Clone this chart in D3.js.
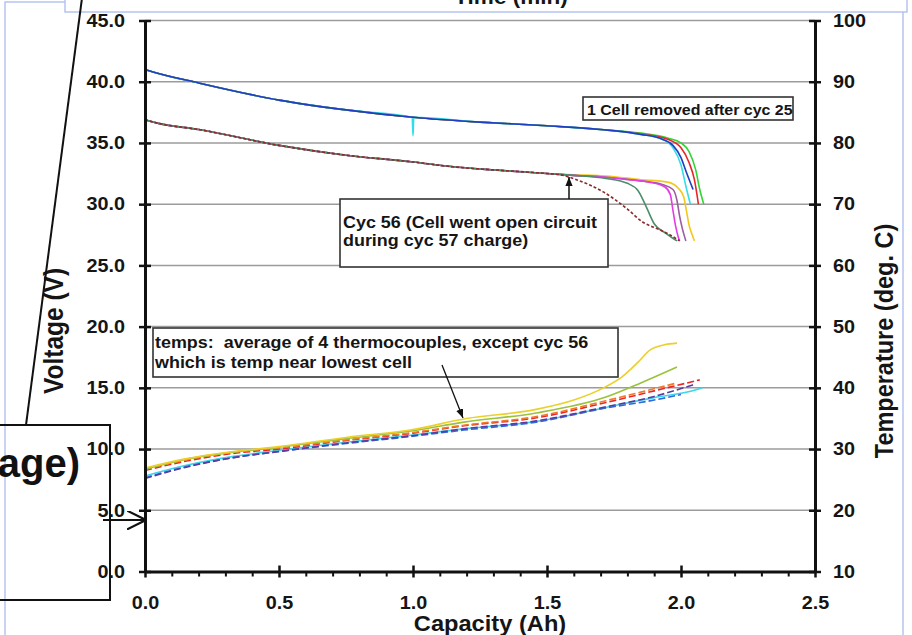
<!DOCTYPE html>
<html>
<head>
<meta charset="utf-8">
<script src="https://cdn.jsdelivr.net/npm/d3@7"></script>
<style>
body { margin: 0; background: #fff; }
svg { display: block; }
text { white-space: pre; }
</style>
</head>
<body>
<svg id="chart" width="912" height="635"></svg>
<script>
// tick values
var voltTicks = [0, 5, 10, 15, 20, 25, 30, 35, 40, 45];
var tempTicks = [10, 20, 30, 40, 50, 60, 70, 80, 90, 100];
var capTicks = [0, 0.5, 1.0, 1.5, 2.0, 2.5];
var capMinor = [0.1, 0.2, 0.3, 0.4, 0.6, 0.7, 0.8, 0.9, 1.1, 1.2, 1.3, 1.4, 1.6, 1.7, 1.8, 1.9, 2.1, 2.2, 2.3, 2.4];

// voltage (V) vs capacity (Ah), upper group
var voltBlue = [[0,41.0],[0.03,40.8],[0.2,39.9],[0.5,38.5],[0.75,37.7],[1.0,37.1],[1.25,36.7],[1.5,36.4],[1.7,36.1],[1.85,35.7],[1.93,35.3],[1.97,34.8],[2.0,33.8],[2.02,32.6],[2.045,31.2]];
var voltCyan = [[0,41.9],[0.003,41.0],[0.03,40.8],[0.2,39.9],[0.5,38.5],[0.75,37.7],[0.997,37.1],[1.0,35.6],[1.003,37.1],[1.25,36.7],[1.5,36.4],[1.7,36.1],[1.85,35.7],[1.93,35.3],[1.97,34.6],[2.0,33.2],[2.02,31.3],[2.035,30.0]];
var voltRed = [[0,41.0],[0.03,40.8],[0.2,39.9],[0.5,38.5],[0.75,37.7],[1.0,37.1],[1.25,36.7],[1.5,36.4],[1.7,36.1],[1.85,35.75],[1.95,35.3],[2.0,34.6],[2.03,33.4],[2.05,32.0],[2.065,30.0]];
var voltGreen = [[0,41.0],[0.03,40.8],[0.2,39.9],[0.5,38.5],[0.75,37.7],[1.0,37.1],[1.25,36.7],[1.5,36.4],[1.7,36.1],[1.85,35.8],[1.95,35.4],[2.0,35.0],[2.03,34.3],[2.055,32.8],[2.07,31.2],[2.085,30.0]];

// voltage, lower group
var voltCyc56 = [[0,36.9],[0.05,36.6],[0.2,36.1],[0.5,34.8],[0.75,34.0],[1.0,33.45],[1.15,33.05],[1.3,32.8],[1.5,32.5],[1.55,32.4],[1.61,32.0],[1.71,31.0],[1.8,29.6],[1.86,28.5],[1.9,28.1],[1.95,27.6],[1.995,27.0]];
var voltTeal = [[0,36.9],[0.05,36.6],[0.2,36.1],[0.5,34.8],[0.75,34.0],[1.0,33.45],[1.15,33.05],[1.3,32.8],[1.5,32.5],[1.6,32.35],[1.72,32.1],[1.8,31.7],[1.84,31.1],[1.87,29.8],[1.9,28.4],[1.945,27.6],[1.985,27.0]];
var voltMagenta = [[0,36.9],[0.05,36.6],[0.2,36.1],[0.5,34.8],[0.75,34.0],[1.0,33.45],[1.15,33.05],[1.3,32.8],[1.5,32.5],[1.6,32.35],[1.72,32.2],[1.8,32.0],[1.88,31.8],[1.94,31.4],[1.96,30.8],[1.97,29.5],[1.98,28.2],[1.99,27.3],[1.995,27.0]];
var voltPurple = [[0,36.9],[0.05,36.6],[0.2,36.1],[0.5,34.8],[0.75,34.0],[1.0,33.45],[1.15,33.05],[1.3,32.8],[1.5,32.5],[1.6,32.35],[1.72,32.2],[1.85,31.9],[1.93,31.6],[1.97,31.2],[1.985,30.3],[1.995,29.0],[2.005,28.0],[2.018,27.0]];
var voltYellow = [[0,36.9],[0.05,36.6],[0.2,36.1],[0.5,34.8],[0.75,34.0],[1.0,33.45],[1.15,33.05],[1.3,32.8],[1.5,32.5],[1.6,32.4],[1.72,32.3],[1.85,32.0],[1.95,31.8],[1.99,31.3],[2.01,30.6],[2.02,29.5],[2.03,28.3],[2.04,27.6],[2.05,27.0]];

// temperature (deg C) vs capacity (Ah)
var tempYellow = [[0,26.9],[0.15,28.4],[0.33,29.6],[0.5,30.4],[0.75,31.9],[1.0,33.2],[1.2,35.0],[1.45,36.4],[1.6,38.0],[1.72,40.2],[1.78,41.8],[1.84,44.2],[1.885,46.2],[1.935,47.0],[1.985,47.3]];
var tempGreen = [[0,26.7],[0.15,28.3],[0.33,29.5],[0.5,30.3],[0.75,31.7],[1.0,33.0],[1.19,34.4],[1.46,35.9],[1.72,38.5],[1.85,40.8],[1.985,43.4]];
var tempOrange = [[0,26.7],[0.15,28.2],[0.33,29.5],[0.5,30.2],[0.75,31.5],[1.0,32.7],[1.19,33.9],[1.46,35.3],[1.72,37.9],[1.85,39.3],[1.985,40.8]];
var tempRed = [[0,26.5],[0.15,28.0],[0.33,29.3],[0.5,30.0],[0.75,31.4],[1.0,32.6],[1.19,33.8],[1.46,35.1],[1.72,37.6],[1.9,39.5],[2.07,41.3]];
var tempPurple = [[0,25.2],[0.15,27.0],[0.33,28.6],[0.5,29.6],[0.75,31.0],[1.0,32.2],[1.19,33.3],[1.46,34.6],[1.72,36.9],[1.9,38.6],[2.045,40.5]];
var tempBlue = [[0,25.3],[0.15,27.1],[0.33,28.6],[0.5,29.6],[0.75,30.9],[1.0,32.1],[1.19,33.1],[1.46,34.4],[1.72,36.7],[1.9,38.0],[2.0,38.9]];
var tempCyan = [[0,25.6],[0.15,27.3],[0.33,28.8],[0.5,29.8],[0.75,31.1],[1.0,32.3],[1.19,33.3],[1.46,34.5],[1.72,36.8],[1.9,38.4],[2.05,39.6],[2.08,40.0]];

var SX = 1.1; // the picture is a bit wider than tall
var FONT = "'Liberation Sans', Arial, Helvetica, sans-serif";

var svg = d3.select("#chart"),
    width = +svg.attr("width"),
    height = +svg.attr("height");

var x = d3.scaleLinear().domain([0, 2.5]).range([145, 815]);
var yV = d3.scaleLinear().domain([0, 45]).range([571.5, 20.5]);
var yT = d3.scaleLinear().domain([10, 100]).range([571.5, 20.5]);

var defs = svg.append("defs");
defs.append("marker")
    .attr("id", "tri")
    .attr("viewBox", "0 0 10 10")
    .attr("refX", 10).attr("refY", 5)
    .attr("markerWidth", 9).attr("markerHeight", 9)
    .attr("markerUnits", "userSpaceOnUse")
    .attr("orient", "auto")
    .append("path").attr("d", "M0,1L10,5L0,9z").attr("fill", "#111");
defs.append("marker")
    .attr("id", "vee")
    .attr("viewBox", "0 0 10 10")
    .attr("refX", 9.5).attr("refY", 5)
    .attr("markerWidth", 19).attr("markerHeight", 19)
    .attr("markerUnits", "userSpaceOnUse")
    .attr("orient", "auto")
    .append("path").attr("d", "M0,0L10,5L0,10").attr("fill", "none").attr("stroke", "#111").attr("stroke-width", 1.1);

// light blue selection frames
svg.append("rect").attr("x", 5).attr("y", 2).attr("width", 898).attr("height", 700)
    .attr("fill", "none").attr("stroke", "#b7c3f2").attr("stroke-width", 1.5);
svg.append("rect").attr("x", 65).attr("y", -30).attr("width", 842).attr("height", 42)
    .attr("fill", "#fff").attr("stroke", "#b7c3f2").attr("stroke-width", 1.5);

// grid lines
svg.append("g").selectAll("line")
    .data(voltTicks.filter(function (v) { return v > 0; }))
    .join("line")
    .attr("x1", x(0)).attr("x2", x(2.5))
    .attr("y1", function (d) { return yV(d); })
    .attr("y2", function (d) { return yV(d); })
    .attr("stroke", "#9b9b9b").attr("stroke-width", 1.5);

var lineV = d3.line().x(function (d) { return x(d[0]); }).y(function (d) { return yV(d[1]); }).curve(d3.curveMonotoneX);
var lineT = d3.line().x(function (d) { return x(d[0]); }).y(function (d) { return yT(d[1]); }).curve(d3.curveMonotoneX);

var series = [
    {data: tempCyan, axis: "T", color: "#3ad6ec"},
    {data: tempBlue, axis: "T", color: "#2f6ad8", dash: "7,3"},
    {data: tempPurple, axis: "T", color: "#5c3aa0", dash: "7,3"},
    {data: tempRed, axis: "T", color: "#e8262a", dash: "7,3"},
    {data: tempOrange, axis: "T", color: "#f07a2a", dash: "7,3"},
    {data: tempGreen, axis: "T", color: "#9ac23c"},
    {data: tempYellow, axis: "T", color: "#ecd02a"},
    {data: voltGreen, axis: "V", color: "#33d433"},
    {data: voltRed, axis: "V", color: "#e8262a"},
    {data: voltCyan, axis: "V", color: "#33dde8"},
    {data: voltBlue, axis: "V", color: "#1f3fbf"},
    {data: voltYellow, axis: "V", color: "#f2c81e"},
    {data: voltPurple, axis: "V", color: "#9b5ca0"},
    {data: voltMagenta, axis: "V", color: "#e43ce4"},
    {data: voltTeal, axis: "V", color: "#4a8f6a"},
    {data: voltCyc56, axis: "V", color: "#8b2a2a", dash: "3,2"}
];

svg.append("g").selectAll("path")
    .data(series)
    .join("path")
    .attr("d", function (s) { return (s.axis === "T" ? lineT : lineV)(s.data); })
    .attr("fill", "none")
    .attr("stroke", function (s) { return s.color; })
    .attr("stroke-width", 1.6)
    .attr("stroke-dasharray", function (s) { return s.dash || null; });

// axes
function styleAxis(g) {
    g.select(".domain").attr("stroke", "#111").attr("stroke-width", 3);
    g.selectAll(".tick line").attr("stroke", "#111").attr("stroke-width", 2.5);
    g.selectAll(".tick text")
        .attr("fill", "#151515")
        .attr("font-family", FONT)
        .attr("font-size", 18)
        .attr("font-weight", "bold")
        .attr("transform", "scale(" + SX + ",1)");
}

var gL = svg.append("g").attr("transform", "translate(145,0)")
    .call(d3.axisLeft(yV).tickValues(voltTicks).tickFormat(d3.format(".1f")).tickSize(6).tickSizeOuter(0));
styleAxis(gL);
gL.selectAll(".tick line").attr("x1", 6);
gL.selectAll(".tick text").attr("x", -20 / SX);

var gR = svg.append("g").attr("transform", "translate(815,0)")
    .call(d3.axisRight(yT).tickValues(tempTicks).tickFormat(d3.format("d")).tickSize(6).tickSizeOuter(0));
styleAxis(gR);
gR.selectAll(".tick line").attr("x1", -6);
gR.selectAll(".tick text").attr("x", 18 / SX);

var gM = svg.append("g").attr("transform", "translate(0,571.5)")
    .call(d3.axisBottom(x).tickValues(capMinor).tickFormat("").tickSize(5).tickSizeOuter(0));
gM.select(".domain").remove();
gM.selectAll(".tick line").attr("stroke", "#111").attr("stroke-width", 2);

var gB = svg.append("g").attr("transform", "translate(0,571.5)")
    .call(d3.axisBottom(x).tickValues(capTicks).tickFormat(d3.format(".1f")).tickSize(6).tickSizeOuter(0));
styleAxis(gB);
gB.selectAll(".tick line").attr("y1", -6);
gB.selectAll(".tick text").attr("y", 25);

// text helper
function label(txt, px, py, size, anchor, rot) {
    return svg.append("text")
        .attr("transform", "translate(" + px + "," + py + ") scale(" + SX + ",1)" + (rot ? " rotate(" + rot + ")" : ""))
        .attr("text-anchor", anchor || "start")
        .attr("font-family", FONT)
        .attr("font-size", size)
        .attr("font-weight", "bold")
        .attr("fill", "#151515")
        .text(txt);
}

label("Capacity (Ah)", 490, 630.5, 21.5, "middle");
label("Time (min)", 511, 4, 20.5, "middle");
label("Voltage (V)", 63, 331, 24.5, "middle", -90);
label("Temperature (deg. C)", 893, 341, 23.5, "middle", -90);

// annotation boxes
function box(x0, y0, x1, y1) {
    svg.append("rect")
        .attr("x", x0).attr("y", y0)
        .attr("width", x1 - x0).attr("height", y1 - y0)
        .attr("fill", "#fff").attr("stroke", "#333").attr("stroke-width", 1.6);
}

box(583, 97, 793, 120);
label("1 Cell removed after cyc 25", 587, 115, 14.5);

box(340, 199, 608, 267);
label("Cyc 56 (Cell went open circuit", 343, 228, 16.3);
label("during cyc 57 charge)", 343, 246, 16.3);
svg.append("line").attr("x1", 569).attr("y1", 199).attr("x2", 569).attr("y2", 177)
    .attr("stroke", "#111").attr("stroke-width", 1.5).attr("marker-end", "url(#tri)");

box(153, 328, 618, 377);
label("temps:  average of 4 thermocouples, except cyc 56", 155, 348, 16.3);
label("which is temp near lowest cell", 155, 368, 16.3);
svg.append("line").attr("x1", 442).attr("y1", 365).attr("x2", 463).attr("y2", 418)
    .attr("stroke", "#111").attr("stroke-width", 1.3).attr("marker-end", "url(#tri)");

// cut-off callout at left
svg.append("rect").attr("x", -5).attr("y", 425).attr("width", 115).attr("height", 175)
    .attr("fill", "none").attr("stroke", "#111").attr("stroke-width", 2);
svg.append("text")
    .attr("x", 80).attr("y", 477)
    .attr("text-anchor", "end")
    .attr("font-family", FONT)
    .attr("font-size", 40)
    .attr("font-weight", "bold")
    .attr("fill", "#111")
    .text("(Voltage)");
svg.append("line").attr("x1", 103).attr("y1", 520).attr("x2", 145).attr("y2", 520)
    .attr("stroke", "#111").attr("stroke-width", 2).attr("marker-end", "url(#vee)");
svg.append("line").attr("x1", 82).attr("y1", -2).attr("x2", 26).attr("y2", 425)
    .attr("stroke", "#111").attr("stroke-width", 2);
</script>
</body>
</html>
